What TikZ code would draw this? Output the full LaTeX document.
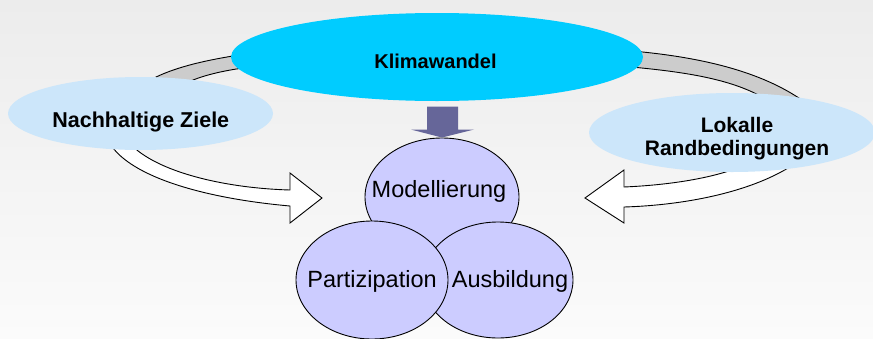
\documentclass[tikz,border=0pt]{standalone}
\usepackage{fontspec}
\setmainfont{Liberation Sans}
\usetikzlibrary{shapes.geometric}

\definecolor{bgtop}{RGB}{236,236,236}
\definecolor{bgbottom}{RGB}{251,251,251}
\definecolor{klimablue}{RGB}{0,204,255}
\definecolor{paleblue}{RGB}{204,230,250}
\definecolor{lavender}{RGB}{204,204,255}
\definecolor{arrowpurple}{RGB}{102,102,153}
\definecolor{bandgray}{RGB}{204,204,204}

\begin{document}
\begin{tikzpicture}[x=1pt,y=-1pt,
    blob/.style={ellipse, inner sep=0pt, fill=paleblue},
    bubble/.style={ellipse, inner sep=0pt, draw=black, line width=0.9pt, fill=lavender},
    band/.style={fill=bandgray, draw=black, line width=0.9pt},
    blockarrow/.style={fill=white, draw=black, line width=0.9pt, line join=miter},
    boldtext/.style={anchor=base, inner sep=0pt, align=center,
      font={\fontsize{#1}{25}\selectfont\bfseries}},
    plaintext/.style={anchor=base, inner sep=0pt,
      font={\fontsize{23.5}{28}\selectfont}}]

  % page and background
  \useasboundingbox (0,0) rectangle (873,338);
  \clip (0,0) rectangle (873,338);
  \shade[top color=bgtop, bottom color=bgbottom] (0,0) rectangle (873,338);

  % gray ring behind the top ellipses
  \draw[band] (135,90) .. controls (160,70) and (200,60) .. (260,52)
    -- (260,66) .. controls (220,70) and (190,78) .. (175,90) -- cycle;
  \draw[band] (620,50) .. controls (700,56) and (770,72) .. (815,110)
    -- (775,105) .. controls (740,80) and (690,72) .. (620,66) -- cycle;

  % white curved arrows
  \coordinate (lhead) at (322,198);
  \coordinate (rhead) at (585,198);
  \draw[blockarrow] (127,140) .. controls (150,170) and (220,188) .. (290,190)
    -- (290,173) -- (lhead) -- (290,223) -- (290,206)
    .. controls (200,198) and (125,175) .. (108,140) -- cycle;
  \draw[blockarrow] (624,187) .. controls (670,185) and (715,178) .. (745,165)
    -- (800,160) .. controls (760,190) and (690,205) .. (624,207)
    -- (624,223) -- (rhead) -- (624,170) -- cycle;

  % ellipses
  \node[blob, minimum width=265pt, minimum height=73pt] (ziele) at (140.5,113.5) {};
  \node[blob, minimum width=286pt, minimum height=79pt] (lokal) at (732,132.5) {};
  \node[blob, fill=klimablue, minimum width=412pt, minimum height=88pt] (klima) at (437,57) {};

  \node[bubble, minimum width=154pt, minimum height=118pt] (modell) at (442,197) {};
  \node[bubble, minimum width=150pt, minimum height=116pt] (ausb) at (498,280) {};
  \node[bubble, minimum width=152pt, minimum height=118pt] (partiz) at (372,280) {};

  % down arrow from Klimawandel
  \fill[arrowpurple] (modell.north) -- ++(32,-8) -- ++(-16,0) -- ++(0,-23)
    -- ++(-31,0) -- ++(0,23) -- ++(-16,0) -- cycle;

  % texts
  \node[boldtext=20] (klimatext) at (435.5,68.3) {Klimawandel};
  \node[boldtext=21.5] (zieletext) at (140.8,127.3) {Nachhaltige Ziele};
  \node[boldtext=21] (lokaltext) at (737,155.7) {Lokalle\\[-2pt]Randbedingungen};
  \node[plaintext] (modelltext) at (439,197) {Modellierung};
  \node[plaintext] (partiztext) at (372,287) {Partizipation};
  \node[plaintext] (ausbtext) at (510,287) {Ausbildung};
\end{tikzpicture}
\end{document}
